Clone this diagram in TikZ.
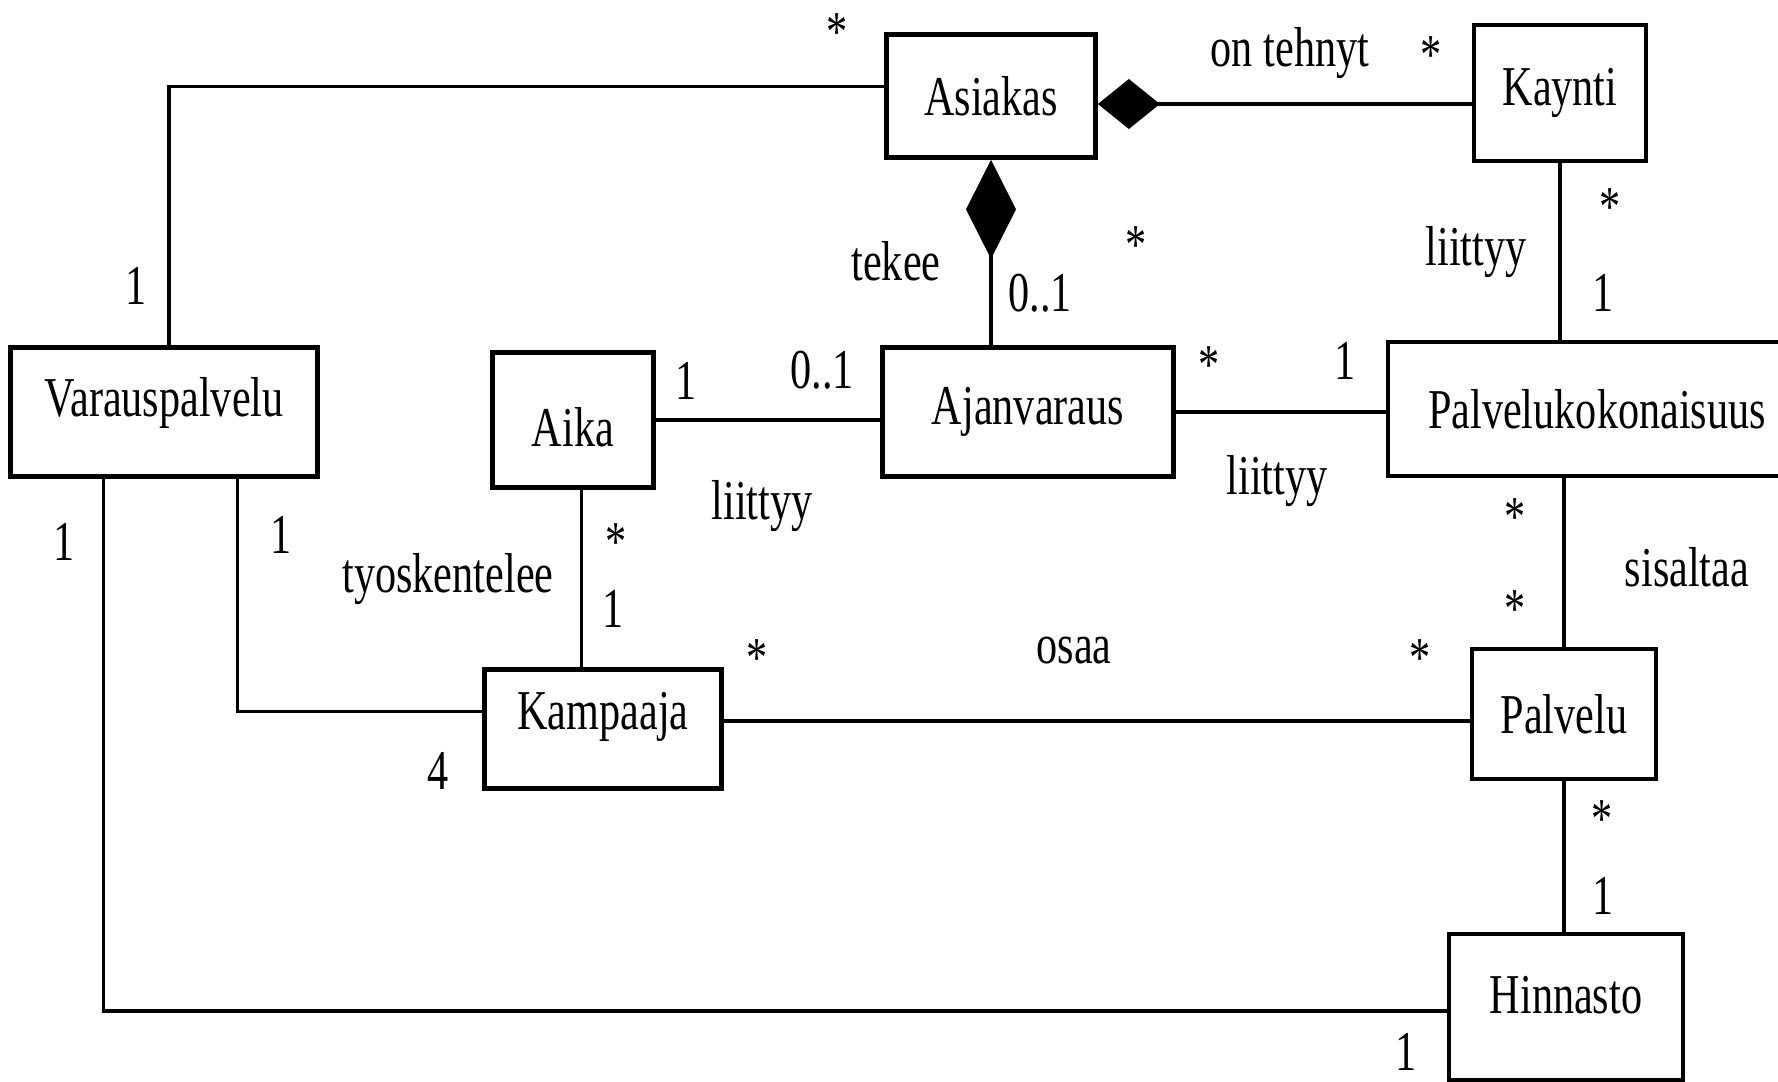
\documentclass[tikz,border=0pt]{standalone}
\usepackage{fontspec}
\setmainfont{Liberation Serif}[FakeStretch=0.75]
\usetikzlibrary{arrows.meta}

\begin{document}
\begin{tikzpicture}[x=0.01cm, y=-0.01cm,
    font=\fontsize{16pt}{19pt}\selectfont,
    luokka/.style={draw, line width=1.3pt, inner sep=0pt},
    yhteys/.style={line width=1pt},
    kooste/.style={{Diamond[length=#1, width=0.5cm]}-},
    merk/.style={inner sep=0pt}]

\useasboundingbox (0,0) rectangle (1778,1082);

% Luokat
\node[luokka, minimum width=2.09cm, minimum height=1.23cm] (asiakas) at (991,96) {Asiakas};
\node[luokka, minimum width=1.72cm, minimum height=1.36cm] (kaynti) at (1560,93) {Kaynti};
\node[luokka, minimum width=3.07cm, minimum height=1.29cm, text height=0.4cm, text depth=0.32cm] (varaus) at (164,412) {Varauspalvelu};
\node[luokka, minimum width=1.61cm, minimum height=1.35cm, text height=0.6cm, text depth=0.07cm] (aika) at (573,420) {Aika};
\node[luokka, minimum width=2.91cm, minimum height=1.29cm] (ajanvaraus) at (1028,412) {Ajanvaraus};
\node[luokka, minimum width=4.18cm, minimum height=1.34cm] (kokonaisuus) at (1597,409) {Palvelukokonaisuus};
\node[luokka, minimum width=2.37cm, minimum height=1.19cm, text height=0.4cm, text depth=0.39cm] (kampaaja) at (603,729) {Kampaaja};
\node[luokka, minimum width=1.84cm, minimum height=1.30cm] (palvelu) at (1564,714) {Palvelu};
\node[luokka, minimum width=2.34cm, minimum height=1.46cm, text height=0.4cm, text depth=0.27cm] (hinnasto) at (1566,1007) {Hinnasto};

% Yhteydet
\draw[yhteys] ([yshift=0.095cm]asiakas.west) -| ([xshift=0.05cm]varaus.north);
\draw[yhteys, kooste=0.62cm] ([yshift=-0.08cm]asiakas.east) -- ([yshift=-0.08cm]asiakas.east -| kaynti.west);
\draw[yhteys, kooste=0.99cm] (asiakas.south) -- (asiakas.south |- ajanvaraus.north);
\draw[yhteys] (aika.east) -- (aika.east -| ajanvaraus.west);
\draw[yhteys] (ajanvaraus.east) -- (ajanvaraus.east -| kokonaisuus.west);
\draw[yhteys] (kaynti.south) -- (kaynti.south |- kokonaisuus.north);
\draw[yhteys] (palvelu.north) -- (palvelu.north |- kokonaisuus.south);
\draw[yhteys] (palvelu.south) -- (palvelu.south |- hinnasto.north);
\draw[yhteys] ([xshift=0.085cm]aika.south) -- ([xshift=0.085cm]aika.south |- kampaaja.north);
\draw[yhteys] ([yshift=-0.07cm]palvelu.west) -- ([yshift=-0.07cm]palvelu.west -| kampaaja.east);
\draw[yhteys] ([xshift=0.735cm]varaus.south) |- ([yshift=0.175cm]kampaaja.west);
\draw[yhteys] ([xshift=-0.605cm]varaus.south) |- ([yshift=-0.04cm]hinnasto.west);

% Nimet ja kertoimet
\node[merk] (m1) at (837,32) {*};
\node[merk] (m2) at (136,286) {1};
\node[merk] (n1) at (1290,53) {on tehnyt};
\node[merk] (m3) at (1431,55) {*};
\node[merk] (n2) at (896,261) {tekee};
\node[merk] (m4) at (1040,293) {0..1};
\node[merk] (m5) at (1136,245) {*};
\node[merk] (m6) at (1610,207) {*};
\node[merk] (n3) at (1476,252) {liittyy};
\node[merk] (m7) at (1603,293) {1};

\node[merk] (m8) at (686,381) {1};
\node[merk] (m9) at (822,370) {0..1};
\node[merk] (m10) at (1209,365) {*};
\node[merk] (m11) at (1345,361) {1};
\node[merk] (n4) at (762,506) {liittyy};
\node[merk] (n5) at (1277,481) {liittyy};

\node[merk] (m12) at (64,542) {1};
\node[merk] (m13) at (281,535) {1};
\node[merk] (n6) at (448,579) {tyoskentelee};
\node[merk] (m14) at (616,542) {*};
\node[merk] (m15) at (613,609) {1};
\node[merk] (m16) at (1515,517) {*};
\node[merk] (n7) at (1687,567) {sisaltaa};
\node[merk] (m17) at (1515,609) {*};

\node[merk] (m18) at (757,658) {*};
\node[merk] (n8) at (1074,651) {osaa};
\node[merk] (m19) at (1420,658) {*};
\node[merk] (m20) at (438,771) {4};
\node[merk] (m21) at (1602,819) {*};
\node[merk] (m22) at (1603,896) {1};
\node[merk] (m23) at (1406,1052) {1};

\end{tikzpicture}
\end{document}
